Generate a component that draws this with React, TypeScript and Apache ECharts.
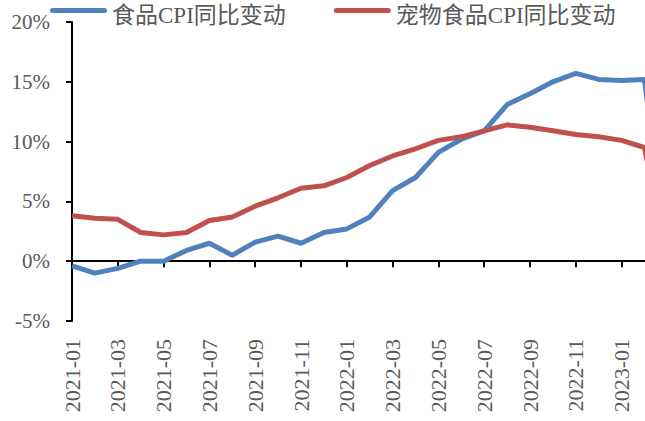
import React, { useEffect, useRef } from "react";
import * as echarts from "echarts";

// Monthly categories (the last one, 2023-03, is an empty month plotted as zero and cut off by the picture edge)
const categories = [
  "2021-01", "2021-02", "2021-03", "2021-04", "2021-05", "2021-06",
  "2021-07", "2021-08", "2021-09", "2021-10", "2021-11", "2021-12",
  "2022-01", "2022-02", "2022-03", "2022-04", "2022-05", "2022-06",
  "2022-07", "2022-08", "2022-09", "2022-10", "2022-11", "2022-12",
  "2023-01", "2023-02", "2023-03",
];

const foodCpi = [
  -0.4, -1.0, -0.6, 0.0, 0.0, 0.9,
  1.5, 0.5, 1.6, 2.1, 1.5, 2.4,
  2.7, 3.7, 5.9, 7.0, 9.1, 10.2,
  10.9, 13.1, 14.0, 15.0, 15.7, 15.2,
  15.1, 15.2, 0,
];

const petFoodCpi = [
  3.8, 3.6, 3.5, 2.4, 2.2, 2.4,
  3.4, 3.7, 4.6, 5.3, 6.1, 6.3,
  7.0, 8.0, 8.8, 9.4, 10.1, 10.4,
  10.9, 11.4, 11.2, 10.9, 10.6, 10.4,
  10.1, 9.5, 0,
];

const seriesNames = ["食品CPI同比变动", "宠物食品CPI同比变动"];
const yTicks = { min: -5, max: 20, step: 5 };

const FONT = "Liberation Serif, Noto Sans CJK SC, serif";
const TEXT_COLOR = "#595959";

// legend icon: a rounded bar in the upper part of the icon box (tiny point extends the box downward)
const LEGEND_ICON =
  "path://M2.5,0 L54.5,0 A2.5,2.5 0 0 1 54.5,5 L2.5,5 A2.5,2.5 0 0 1 2.5,0 Z M28,15 L28.01,15 L28,14.99 Z";

export default function App() {
  const ref = useRef<HTMLDivElement>(null);

  useEffect(() => {
    if (!ref.current) return;
    const chart = echarts.init(ref.current, undefined, { renderer: "svg" });
    const lastIdx = categories.length - 1;
    chart.setOption({
      animation: false,
      backgroundColor: "#ffffff",
      textStyle: { fontFamily: FONT },
      legend: {
        left: 45,
        top: -1,
        itemWidth: 57,
        itemHeight: 15,
        itemGap: 48,
        icon: LEGEND_ICON,
        data: seriesNames,
        textStyle: {
          fontFamily: FONT,
          fontSize: 23,
          color: TEXT_COLOR,
        },
      },
      grid: {
        left: 72,
        top: 22,
        width: 26 * 22.9,
        height: 299,
        containLabel: false,
      },
      xAxis: [
        {
          type: "category",
          data: categories,
          boundaryGap: false,
          position: "bottom",
          axisLine: { show: false, onZero: false },
          axisTick: { show: false },
          axisLabel: {
            rotate: 90,
            margin: 18,
            interval: (index: number) => index % 2 === 0 && index < lastIdx,
            fontFamily: FONT,
            fontSize: 22,
            color: TEXT_COLOR,
          },
          splitLine: { show: false },
        },
        {
          type: "category",
          data: categories,
          boundaryGap: false,
          position: "bottom",
          axisLine: {
            show: true,
            onZero: true,
            lineStyle: { color: "#000000", width: 2 },
          },
          axisTick: {
            show: true,
            interval: 1,
            length: 6,
            lineStyle: { color: "#000000", width: 2 },
          },
          axisLabel: { show: false },
          splitLine: { show: false },
        },
      ],
      yAxis: {
        type: "value",
        min: yTicks.min,
        max: yTicks.max,
        interval: yTicks.step,
        axisLine: { show: true, lineStyle: { color: "#000000", width: 2 } },
        axisTick: { show: true, length: 6, lineStyle: { color: "#000000", width: 2 } },
        axisLabel: {
          formatter: "{value}%",
          margin: 22,
          fontFamily: FONT,
          fontSize: 21,
          color: TEXT_COLOR,
        },
        splitLine: { show: false },
      },
      series: [
        {
          name: seriesNames[0],
          type: "line",
          xAxisIndex: 0,
          data: foodCpi,
          symbol: "none",
          lineStyle: { color: "#4F81BD", width: 5 },
          itemStyle: { color: "#4F81BD" },
        },
        {
          name: seriesNames[1],
          type: "line",
          xAxisIndex: 0,
          data: petFoodCpi,
          symbol: "none",
          lineStyle: { color: "#C0504D", width: 5 },
          itemStyle: { color: "#C0504D" },
        },
      ],
    });
    return () => chart.dispose();
  }, []);

  return (
    <div
      style={{
        position: "fixed",
        left: 0,
        top: 0,
        width: 645,
        height: 421,
        overflow: "hidden",
        background: "#ffffff",
      }}
    >
      <div ref={ref} style={{ width: 700, height: 421 }} />
    </div>
  );
}
